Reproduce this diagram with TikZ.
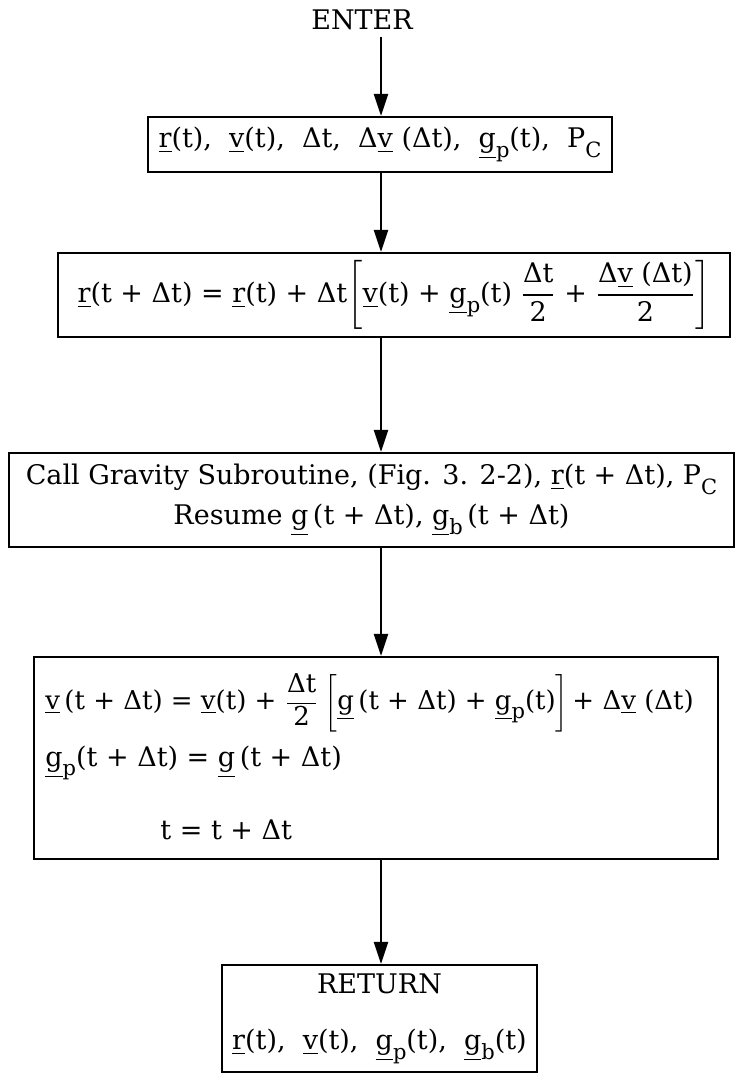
\documentclass[tikz,border=0pt]{standalone}
\usepackage{amsmath}
\usepackage{fontspec}
\setmainfont{DejaVu Serif}
\usepackage{tikz}
\usetikzlibrary{arrows.meta, positioning}
\newcommand{\uvec}[1]{\underline{#1}}
\newcommand{\lowsub}[1]{\raisebox{-0.7ex}{\fontsize{10.5}{12}\selectfont #1}}
\newcommand{\half}[1]{$\dfrac{\text{#1}}{\text{2}}$}
\tikzset{
  box/.style={rectangle, draw=black, line width=1.1pt, inner sep=0pt,
    align=center, font=\fontsize{13.5}{16}\selectfont},
  eqline/.style={anchor=west, inner sep=0pt, font=\fontsize{13.5}{16}\selectfont},
  label/.style={font=\fontsize{13.5}{16}\selectfont},
  flow/.style={-{Triangle[length=11pt,width=7pt]}, line width=1.1pt}
}

\begin{document}
\begin{tikzpicture}[x=0.5pt, y=-0.5pt]
  \useasboundingbox (0,0) rectangle (736,1073);

  % Entry
  \node[label] (enter) at (362,20) {ENTER};
  \coordinate (axis) at (381,20);

  % Input values
  \node[box, minimum width=232pt, minimum height=27.5pt] (inputs) at (380,144.5)
    {\uvec{r}(t),\ \ \uvec{v}(t),\ \ Δt,\ \ Δ\uvec{v} (Δt),\ \ \uvec{g}\lowsub{p}(t),\ \ P\lowsub{C}};

  % Position update
  \node[box, minimum width=336pt, minimum height=42pt] (posupd) at (394,295)
    {\uvec{r}(t + Δt) = \uvec{r}(t) + Δt$\left[\text{\uvec{v}(t) + \uvec{g}\lowsub{p}(t) }\dfrac{\text{Δt}}{\text{2}}\text{ + }\dfrac{\text{Δ\uvec{v} (Δt)}}{\text{2}}\right]$};

  % Gravity call
  \node[box, minimum width=362.5pt, minimum height=47pt] (gravity) at (371.5,500)
    {Call Gravity Subroutine,\ (Fig. 3. 2-2),\ \uvec{r}(t + Δt),\ P\lowsub{C}\\[4pt]
     Resume \uvec{g}\,(t + Δt),\ \uvec{g}\lowsub{b}\,(t + Δt)};

  % Velocity update
  \node[box, minimum width=342pt, minimum height=101pt] (velupd) at (376,758) {};
  \node[eqline, font=\fontsize{13}{16}\selectfont] (vline) at (45,703)
    {\uvec{v}\,(t + Δt) = \uvec{v}(t) + \half{Δt}\kern3pt$\left[\vphantom{\dfrac{A}{2}}\text{\uvec{g}\,(t + Δt) + \uvec{g}\lowsub{p}(t)}\right]$\kern2pt+ Δ\uvec{v} (Δt)};
  \node[eqline] (gline) at (45,763) {\uvec{g}\lowsub{p}(t + Δt) = \uvec{g}\,(t + Δt)};
  \node[eqline] (tline) at (160,830) {t = t + Δt};

  % Exit
  \node[box, minimum width=157.5pt, minimum height=53.5pt] (exit) at (379.5,1018.5)
    {RETURN\\[12pt]\uvec{r}(t),\ \ \uvec{v}(t),\ \ \uvec{g}\lowsub{p}(t),\ \ \uvec{g}\lowsub{b}(t)};

  % Connections
  \draw[flow] (enter.south -| axis) -- (inputs.north -| axis);
  \draw[flow] (inputs.south -| axis) -- (posupd.north -| axis);
  \draw[flow] (posupd.south -| axis) -- (gravity.north -| axis);
  \draw[flow] (gravity.south -| axis) -- (velupd.north -| axis);
  \draw[flow] (velupd.south -| axis) -- (exit.north -| axis);
\end{tikzpicture}
\end{document}
